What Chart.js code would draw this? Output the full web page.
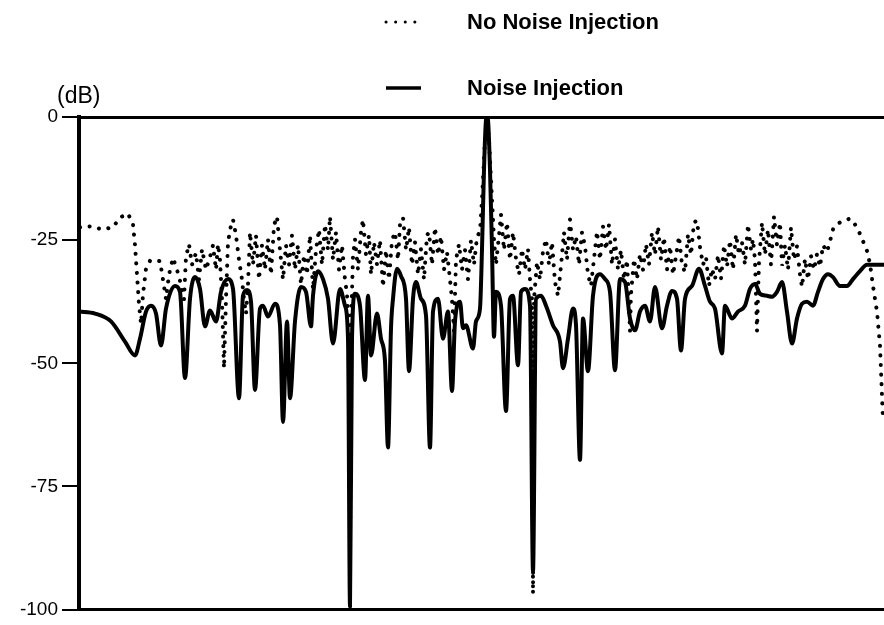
<!DOCTYPE html>
<html>
<head>
<meta charset="utf-8">
<script src="https://cdn.jsdelivr.net/npm/chart.js@4.4.1/dist/chart.umd.min.js"></script>
<style>
  html, body { margin: 0; padding: 0; background: #fff; }
</style>
</head>
<body>
<canvas id="spectrum-chart" width="884" height="625"></canvas>
<script>
// series names (legend order: dotted first, then solid)
const seriesNames = ["No Noise Injection", "Noise Injection"];
const yTicks = [0, -25, -50, -75, -100];
const unitLabel = "(dB)";

// Noise Injection (solid) - bin position, level in dB
const binsSolid = [
  0, 16, 32, 46, 56, 61, 67, 72, 77, 82,
  87, 96, 101, 106, 111, 116, 121, 126, 131, 137,
  142, 149, 154, 160, 164, 168, 172, 176, 181, 184,
  189, 196, 201, 204, 208, 211, 216, 222, 227, 232,
  234, 239, 244, 249, 254, 261, 266, 269, 271, 273,
  276, 281, 286, 289, 292, 298, 302, 306, 309, 312,
  314, 318, 322, 327, 330, 334, 337, 342, 347, 351,
  354, 359, 364, 369, 373, 376, 381, 384, 387, 394,
  397, 401, 403, 405, 407, 408, 409, 411, 413, 415,
  417, 422, 427, 431, 434, 439, 442, 446, 451, 454,
  457, 462, 467, 474, 481, 484, 489, 494, 497, 501,
  504, 509, 514, 521, 526, 531, 536, 541, 546, 551,
  556, 561, 566, 571, 576, 583, 588, 593, 598, 602,
  606, 613, 620, 626, 631, 636, 643, 646, 653, 659,
  666, 671, 676, 681, 688, 693, 698, 703, 708, 713,
  718, 723, 728, 734, 739, 744, 749, 754, 761, 768,
  774, 781, 788, 805
];
const dbSolid = [
  -39.5, -39.9, -41.5, -45.6, -48.4, -45.0, -39.5, -38.3, -39.9, -46.4,
  -38.9, -34.3, -35.5, -53.0, -36.9, -32.5, -34.9, -42.5, -39.3, -41.5,
  -35.5, -32.9, -34.9, -57.1, -36.3, -35.1, -37.5, -55.4, -38.9, -38.3,
  -40.5, -37.9, -42.3, -61.9, -41.5, -57.1, -41.5, -34.5, -35.5, -42.5,
  -36.3, -31.3, -32.9, -36.9, -46.0, -34.9, -38.3, -45.0, -99.4, -45.0,
  -35.9, -38.3, -53.4, -36.3, -48.4, -39.9, -45.0, -49.6, -67.1, -42.9,
  -36.9, -30.8, -32.3, -36.9, -51.6, -36.9, -33.5, -36.9, -40.3, -67.1,
  -39.5, -36.9, -45.0, -39.5, -55.6, -41.5, -37.5, -42.9, -42.3, -47.0,
  -41.5, -38.9, -26.8, -10.7, -0.6, 0, -0.6, -10.7, -26.8, -44.6,
  -35.5, -38.3, -59.7, -36.9, -36.3, -50.4, -35.5, -34.9, -38.3, -92.3,
  -36.9, -36.3, -38.3, -42.3, -45.6, -51.0, -45.0, -38.9, -42.3, -69.6,
  -40.9, -51.6, -36.3, -31.9, -32.9, -35.5, -51.4, -32.9, -33.5, -40.9,
  -43.3, -39.5, -38.3, -41.5, -34.5, -42.9, -38.3, -35.3, -36.9, -47.4,
  -36.9, -34.3, -30.8, -34.3, -37.5, -38.9, -48.0, -38.3, -40.9, -39.5,
  -38.3, -34.9, -33.9, -35.9, -36.3, -36.5, -35.5, -33.5, -39.5, -46.0,
  -40.9, -37.9, -37.5, -38.3, -35.5, -32.9, -31.9, -32.5, -34.3, -34.3,
  -32.9, -31.3, -30.0, -30.0
];

// No Noise Injection (dotted)
const binsDotted = [
  1, 12, 23, 34, 41, 49, 54, 56, 58, 60,
  62, 64, 67, 71, 76, 81, 84, 87, 90, 94,
  98, 102, 105, 107, 110, 113, 117, 120, 123, 127,
  131, 134, 137, 139, 141, 143, 145, 147, 149, 152,
  154, 157, 160, 163, 165, 167, 169, 171, 174, 177,
  180, 183, 186, 189, 192, 195, 198, 201, 204, 207,
  210, 213, 216, 219, 222, 225, 228, 231, 234, 237,
  240, 243, 246, 249, 251, 254, 257, 260, 263, 266,
  268, 270, 271, 272, 274, 276, 279, 282, 284, 287,
  290, 292, 295, 298, 301, 304, 307, 310, 313, 316,
  319, 321, 324, 327, 330, 333, 336, 339, 342, 345,
  348, 350, 353, 356, 359, 362, 365, 368, 371, 373,
  375, 377, 380, 383, 386, 389, 392, 395, 398, 401,
  403, 406, 408, 410, 413, 415, 417, 420, 422, 425,
  428, 431, 434, 437, 440, 443, 446, 449, 451, 453,
  454, 455, 458, 461, 464, 467, 470, 473, 476, 479,
  482, 485, 488, 491, 494, 497, 500, 503, 506, 509,
  512, 515, 518, 521, 524, 527, 530, 533, 536, 539,
  542, 545, 548, 550, 551, 552, 555, 558, 561, 564,
  567, 570, 573, 576, 579, 582, 585, 588, 591, 594,
  597, 600, 603, 606, 609, 612, 615, 618, 621, 624,
  627, 630, 633, 636, 639, 642, 645, 648, 651, 654,
  657, 660, 663, 666, 669, 672, 674, 676, 678, 680,
  683, 686, 689, 692, 695, 698, 701, 703, 706, 709,
  712, 715, 718, 721, 723, 726, 729, 732, 735, 738,
  741, 744, 748, 751, 754, 757, 761, 766, 771, 775,
  779, 784, 788, 791, 794, 798, 801, 804
];
const dbDotted = [
  -22.4, -22.2, -22.8, -22.4, -20.4, -19.6, -21.8, -26, -32, -38,
  -42, -36, -30.8, -29.2, -29.4, -29.2, -33, -37, -32, -28.6,
  -31, -34, -37, -28.4, -25.8, -30, -27.6, -33, -26.8, -31,
  -28.4, -26, -31, -25.8, -29, -37, -51, -37, -25.4, -22,
  -20.8, -24, -29, -33, -37, -40, -34, -23.4, -30, -24,
  -33, -26, -31, -24.8, -32, -22, -20.2, -27, -33, -26,
  -30, -24, -31, -26, -34, -28, -32, -24, -35, -27,
  -22.8, -30, -21.8, -27, -20.2, -29, -23.4, -31, -26, -33,
  -36, -43, -96.8, -43, -28.2, -24.8, -31, -23.2, -20.8, -28,
  -24, -32, -25.4, -30, -25, -34.5, -27, -33, -25, -23.4,
  -29, -21.8, -20.4, -27, -22.4, -30, -25.4, -32, -26.8, -33,
  -24, -23.4, -30, -22.4, -28, -24.2, -31, -27.4, -33, -37,
  -43.5, -29, -25.8, -31, -27, -33, -25, -30, -24.4, -23.2,
  -16.7, -4.6, 0, -4.6, -16.7, -24.8, -30, -24, -19.8, -27,
  -21.4, -29, -23.4, -28.8, -32, -26.8, -31, -26.8, -33, -37,
  -96.8, -37, -29.4, -33, -27.2, -24.8, -30, -25.4, -33.5, -36.3,
  -30.2, -23.4, -29, -20.8, -27, -24.2, -30, -23.4, -26.2, -32,
  -34.3, -28.8, -23.2, -29, -22.2, -27, -21.8, -30, -24.8, -31,
  -27, -33, -29, -38, -43.5, -36, -28.8, -33, -27.8, -31,
  -25.8, -30, -23.4, -28, -22.2, -29, -24.4, -31, -26.2, -32,
  -28.2, -24.2, -30, -31.5, -23.8, -28, -21.4, -21, -26.4, -30,
  -28.4, -34.3, -30.8, -33, -28, -32.9, -26, -30.4, -25, -31,
  -23.8, -28, -25.4, -30, -21.8, -27, -24.8, -29.2, -43.5, -29.4,
  -21.4, -28, -22.8, -30, -20.2, -26, -21.4, -30.2, -26, -31,
  -22.4, -29, -26.2, -32, -34.5, -28.8, -33, -28.2, -31, -27.8,
  -30.4, -26, -27.4, -25.2, -22.8, -22, -21.4, -21, -20.6, -21.5,
  -22.8, -25.2, -27.2, -29.8, -34.3, -39.5, -46.4, -61.7
];

function toPoints(xs, ys) {
  return xs.map((x, i) => ({ x: x, y: ys[i] }));
}

const dottedDash = [0.1, 9.5];
const fontFamily = '"Liberation Sans", Arial, Helvetica, sans-serif';

// (dB) label and the two-row legend at the top
const topTextPlugin = {
  id: "topText",
  afterDraw(chart) {
    const ctx = chart.ctx;
    ctx.save();
    ctx.fillStyle = "#000";
    ctx.font = "23px " + fontFamily;
    ctx.textBaseline = "alphabetic";
    ctx.fillText(unitLabel, 57, 103);

    const rows = [
      { name: seriesNames[0], ds: chart.data.datasets[1], y: 22, base: 29 },
      { name: seriesNames[1], ds: chart.data.datasets[0], y: 88, base: 95 },
    ];
    rows.forEach((row) => {
      ctx.strokeStyle = row.ds.borderColor;
      ctx.lineWidth = row.ds.borderDash ? 3 : 3.5;
      ctx.lineCap = row.ds.borderCapStyle || "butt";
      ctx.setLineDash(row.ds.borderDash || []);
      ctx.beginPath();
      ctx.moveTo(386, row.y);
      ctx.lineTo(421, row.y);
      ctx.stroke();
      ctx.setLineDash([]);
      ctx.font = "bold 22px " + fontFamily;
      ctx.fillText(row.name, 467, row.base);
    });
    ctx.restore();
  },
};

let spectrumData = {
  type: "line",
  data: {
    datasets: [
      {
        label: seriesNames[1],
        data: toPoints(binsSolid, dbSolid),
        borderColor: "#000",
        borderWidth: 4,
        pointRadius: 0,
        cubicInterpolationMode: "monotone",
        borderJoinStyle: "round",
      },
      {
        label: seriesNames[0],
        data: toPoints(binsDotted, dbDotted),
        borderColor: "#000",
        borderWidth: 4,
        borderDash: dottedDash,
        borderCapStyle: "round",
        pointRadius: 0,
        tension: 0,
      },
    ],
  },
  options: {
    responsive: false,
    animation: false,
    layout: { padding: 0 },
    plugins: {
      legend: { display: false },
      tooltip: { enabled: false },
    },
    scales: {
      x: {
        type: "linear",
        position: "bottom",
        min: 0,
        max: 805,
        ticks: { display: false },
        grid: { display: false, drawTicks: false },
        border: { color: "#000", width: 3 },
        afterFit: (scale) => { scale.height = 12; },
      },
      xTop: {
        type: "linear",
        position: "top",
        min: 0,
        max: 805,
        ticks: { display: false },
        grid: { display: false, drawTicks: false },
        border: { color: "#000", width: 3 },
        afterFit: (scale) => { scale.height = 117; },
      },
      y: {
        min: -100,
        max: 0,
        afterBuildTicks: (scale) => {
          scale.ticks = yTicks.map((v) => ({ value: v }));
        },
        ticks: {
          color: "#000",
          padding: 4,
          font: { family: fontFamily, size: 19 },
        },
        grid: {
          drawOnChartArea: false,
          tickLength: 17,
          color: "#000",
          lineWidth: 2,
        },
        border: { color: "#000", width: 4 },
        afterFit: (scale) => { scale.width = 79; },
      },
    },
  },
  plugins: [topTextPlugin],
};

var spectrumChart = new Chart(
  document.getElementById("spectrum-chart"),
  spectrumData
);
</script>
</body>
</html>
